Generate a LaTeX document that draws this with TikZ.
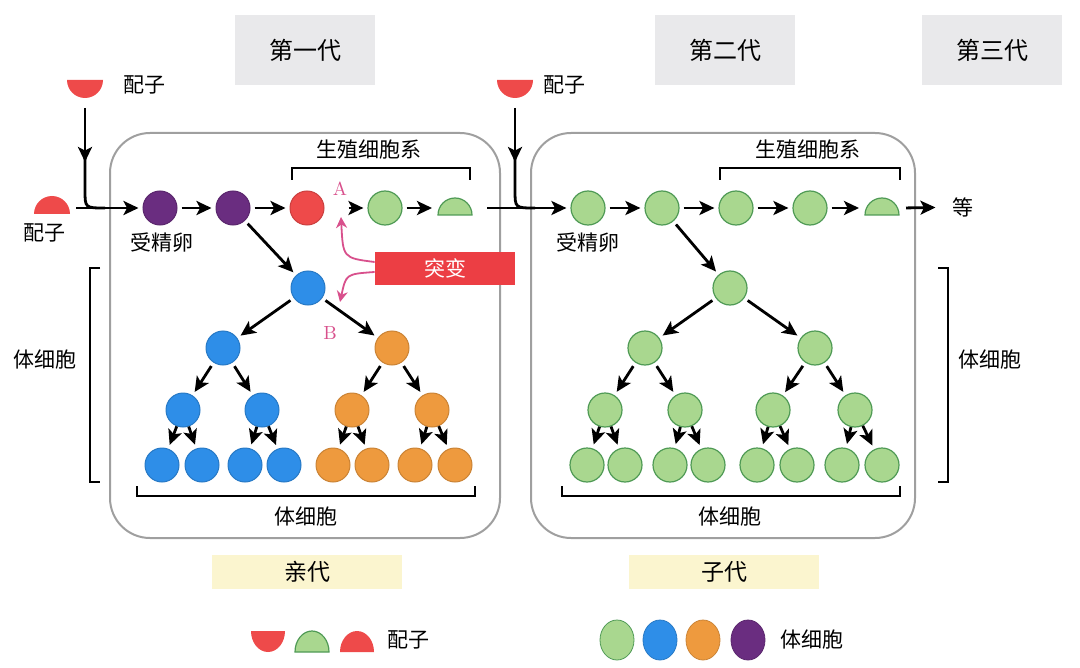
\documentclass[tikz,border=0pt]{standalone}
\usepackage{fontspec}
\newfontfamily\cjk{Noto Sans CJK SC}
\usetikzlibrary{arrows.meta,shapes.geometric}

\definecolor{cellpurple}{HTML}{6A2D80}
\definecolor{cellred}{HTML}{EE4A4A}
\definecolor{cellgreen}{HTML}{A9D78F}
\definecolor{greenline}{HTML}{4F9A55}
\definecolor{cellblue}{HTML}{2E8EE8}
\definecolor{cellorange}{HTML}{EE9A3E}
\definecolor{mutpink}{HTML}{D8508C}
\definecolor{mutred}{HTML}{EC3E44}
\definecolor{headgray}{HTML}{E9E9EB}
\definecolor{footyellow}{HTML}{FBF5CF}

\begin{document}
\begin{tikzpicture}[x=0.5pt,y=-0.5pt,>={Stealth[length=7.5pt,width=7pt,inset=1.8pt]},
    cell/.style={circle,minimum size=17pt,inner sep=0pt,fill=cell#1,draw=cell#1!85!black,line width=0.5pt},
    gcell/.style={circle,minimum size=17pt,inner sep=0pt,fill=cellgreen,draw=greenline,line width=0.6pt},
    lbl/.style={font=\cjk\fontsize{10.5}{12}\selectfont},
    flow/.style={->,line width=1.4pt,shorten <=2pt,shorten >=2pt},
    mutarrow/.style={->,mutpink,line width=0.9pt,>={Stealth[length=5.5pt,width=5.5pt]}},
    gen/.style={fill=headgray,minimum width=70pt,minimum height=35pt,font=\cjk\fontsize{12}{14}\selectfont},
    phase/.style={fill=footyellow,minimum width=95pt,minimum height=17pt,font=\cjk\fontsize{11.5}{13}\selectfont},
    frame/.style={draw=gray!75,line width=1pt,rounded corners=20pt}]
    \useasboundingbox (0,0) rectangle (1080,668);

    % Generation headers
    \node[gen] (gen1) at (305,50) {第一代};
    \node[gen] (gen2) at (725,50) {第二代};
    \node[gen] (gen3) at (992,50) {第三代};

    % Parent and offspring frames
    \draw[frame] (110,133) rectangle (500,538);
    \draw[frame] (531,133) rectangle (915,538);
    \node[phase] (par) at (307,572) {亲代};
    \node[phase] (off) at (724,572) {子代};

    % Gametes entering the first generation
    \fill[cellred] (67,80) arc[start angle=180,end angle=0,radius=18] -- cycle;
    \node[lbl,right] (gamlbl1) at (116,85) {配子};
    \fill[cellred] (34,214) arc[start angle=180,end angle=360,radius=18] -- cycle;
    \node[lbl] (gamlbl2) at (45,233) {配子};
    \coordinate (in1) at (72,208);
    \draw[flow] (85,104) -- (85,166);
    \draw[line width=1.4pt] (85,150) -- (85,190) .. controls (85,208) .. (105,208);

    % Germ line, first generation
    \node[cell=purple] (zyg1) at (160,208) {};
    \node[cell=purple] (pur2) at (233,208) {};
    \node[cell=red] (red3) at (307,208) {};
    \node[gcell] (grn4) at (385,208) {};
    \fill[cellgreen,draw=greenline,line width=0.6pt] (438,215) arc[start angle=180,end angle=360,radius=17] -- cycle;
    \coordinate (half1in) at (436,208);
    \coordinate (half1out) at (483,208);
    \draw[flow] (in1) -- (zyg1);
    \draw[flow] (zyg1) -- (pur2);
    \draw[flow] (pur2) -- (red3);
    \draw[flow,shorten <=12pt] (red3) -- (grn4);
    \draw[flow] (grn4) -- (half1in);
    \node[lbl] (zyglbl1) at (162,243) {受精卵};
    \draw[line width=0.6pt] (292,180) -- (292,168) -- (470,168) -- (470,180);
    \node[lbl] (germlbl1) at (369,150) {生殖细胞系};

    % Mutation
    \node[fill=mutred,minimum width=70pt,minimum height=16.5pt,text=white,lbl] (mut) at (445,268) {突变};
    \node[text=mutpink,font=\fontsize{9.5}{11}\selectfont] (labA) at (340,189) {A};
    \node[text=mutpink,font=\fontsize{9.5}{11}\selectfont] (labB) at (330,333) {B};
    \draw[mutarrow] ([yshift=3pt]mut.west) .. controls (343,258) .. (341,217);
    \draw[mutarrow] ([yshift=-2pt]mut.west) .. controls (346,274) .. (340,302);

    % Somatic tree, first generation
    \node[cell=blue] (blu0) at (308,288) {};
    \node[cell=blue] (blu1) at (223,348) {};
    \node[cell=orange] (org1) at (392,348) {};
    \node[cell=blue] (blu11) at (183,410) {};
    \node[cell=blue] (blu12) at (262,410) {};
    \node[cell=orange] (org11) at (352,410) {};
    \node[cell=orange] (org12) at (432,410) {};
    \node[cell=blue] (blu111) at (162,465) {};
    \node[cell=blue] (blu112) at (202,465) {};
    \node[cell=blue] (blu121) at (245,465) {};
    \node[cell=blue] (blu122) at (284,465) {};
    \node[cell=orange] (org111) at (333,465) {};
    \node[cell=orange] (org112) at (372,465) {};
    \node[cell=orange] (org121) at (415,465) {};
    \node[cell=orange] (org122) at (455,465) {};
    \draw[flow] (pur2) -- (blu0);
    \draw[flow] (blu0) -- (blu1);
    \draw[flow] (blu0) -- (org1);
    \draw[flow] (blu1) -- (blu11);
    \draw[flow] (blu1) -- (blu12);
    \draw[flow] (org1) -- (org11);
    \draw[flow] (org1) -- (org12);
    \draw[flow,shorten <=0pt] (blu11) -- (blu111);
    \draw[flow,shorten <=0pt] (blu11) -- (blu112);
    \draw[flow,shorten <=0pt] (blu12) -- (blu121);
    \draw[flow,shorten <=0pt] (blu12) -- (blu122);
    \draw[flow,shorten <=0pt] (org11) -- (org111);
    \draw[flow,shorten <=0pt] (org11) -- (org112);
    \draw[flow,shorten <=0pt] (org12) -- (org121);
    \draw[flow,shorten <=0pt] (org12) -- (org122);
    \draw[line width=0.6pt] (137,486) -- (137,496) -- (475,496) -- (475,486);
    \node[lbl] (somlbl1) at (306,517) {体细胞};
    \draw[line width=0.6pt] (100,268) -- (90,268) -- (90,482) -- (100,482);
    \node[lbl] (somlbl2) at (45,360) {体细胞};

    % Gamete entering the second generation
    \fill[cellred] (497,80) arc[start angle=180,end angle=0,radius=18] -- cycle;
    \node[lbl,right] (gamlbl3) at (536,85) {配子};
    \draw[flow] (515,104) -- (515,166);
    \draw[line width=1.4pt] (515,150) -- (515,190) .. controls (515,208) .. (535,208);

    % Germ line, second generation
    \node[gcell] (zyg2) at (588,208) {};
    \node[gcell] (grn6) at (662,208) {};
    \node[gcell] (grn7) at (736,208) {};
    \node[gcell] (grn8) at (810,208) {};
    \fill[cellgreen,draw=greenline,line width=0.6pt] (865,215) arc[start angle=180,end angle=360,radius=17] -- cycle;
    \coordinate (half2in) at (863,208);
    \coordinate (half2out) at (902,208);
    \draw[flow] (half1out) -- (zyg2);
    \draw[flow] (zyg2) -- (grn6);
    \draw[flow] (grn6) -- (grn7);
    \draw[flow] (grn7) -- (grn8);
    \draw[flow] (grn8) -- (half2in);
    \node[lbl] (etc) at (963,207) {等};
    \draw[flow,shorten >=5pt] (half2out) -- (etc);
    \node[lbl] (zyglbl2) at (588,243) {受精卵};
    \draw[line width=0.6pt] (720,180) -- (720,168) -- (900,168) -- (900,180);
    \node[lbl] (germlbl2) at (808,150) {生殖细胞系};

    % Somatic tree, second generation
    \node[gcell] (grn0) at (730,288) {};
    \node[gcell] (grn1) at (645,348) {};
    \node[gcell] (grn2) at (815,348) {};
    \node[gcell] (grn11) at (605,410) {};
    \node[gcell] (grn12) at (685,410) {};
    \node[gcell] (grn21) at (773,410) {};
    \node[gcell] (grn22) at (855,410) {};
    \node[gcell] (grn111) at (587,465) {};
    \node[gcell] (grn112) at (625,465) {};
    \node[gcell] (grn121) at (670,465) {};
    \node[gcell] (grn122) at (708,465) {};
    \node[gcell] (grn211) at (757,465) {};
    \node[gcell] (grn212) at (797,465) {};
    \node[gcell] (grn221) at (842,465) {};
    \node[gcell] (grn222) at (882,465) {};
    \draw[flow] (grn6) -- (grn0);
    \draw[flow] (grn0) -- (grn1);
    \draw[flow] (grn0) -- (grn2);
    \draw[flow] (grn1) -- (grn11);
    \draw[flow] (grn1) -- (grn12);
    \draw[flow] (grn2) -- (grn21);
    \draw[flow] (grn2) -- (grn22);
    \draw[flow,shorten <=0pt] (grn11) -- (grn111);
    \draw[flow,shorten <=0pt] (grn11) -- (grn112);
    \draw[flow,shorten <=0pt] (grn12) -- (grn121);
    \draw[flow,shorten <=0pt] (grn12) -- (grn122);
    \draw[flow,shorten <=0pt] (grn21) -- (grn211);
    \draw[flow,shorten <=0pt] (grn21) -- (grn212);
    \draw[flow,shorten <=0pt] (grn22) -- (grn221);
    \draw[flow,shorten <=0pt] (grn22) -- (grn222);
    \draw[line width=0.6pt] (562,486) -- (562,496) -- (900,496) -- (900,486);
    \node[lbl] (somlbl3) at (730,517) {体细胞};
    \draw[line width=0.6pt] (938,268) -- (948,268) -- (948,482) -- (938,482);
    \node[lbl] (somlbl4) at (990,360) {体细胞};

    % Legend
    \fill[cellred] (251,631) arc[start angle=180,end angle=0,x radius=17,y radius=21] -- cycle;
    \fill[cellgreen,draw=greenline,line width=0.6pt] (295,652) arc[start angle=180,end angle=360,x radius=17,y radius=21] -- cycle;
    \fill[cellred] (340,652) arc[start angle=180,end angle=360,x radius=17,y radius=21] -- cycle;
    \node[lbl] (keygam) at (408,640) {配子};
    \node[ellipse,minimum width=17pt,minimum height=20pt,inner sep=0pt,fill=cellgreen,draw=greenline] (keygrn) at (617,640) {};
    \node[ellipse,minimum width=17pt,minimum height=20pt,inner sep=0pt,fill=cellblue,draw=cellblue!85!black] (keyblu) at (660,640) {};
    \node[ellipse,minimum width=17pt,minimum height=20pt,inner sep=0pt,fill=cellorange,draw=cellorange!85!black] (keyorg) at (703,640) {};
    \node[ellipse,minimum width=17pt,minimum height=20pt,inner sep=0pt,fill=cellpurple,draw=cellpurple!85!black] (keypur) at (748,640) {};
    \node[lbl] (keysom) at (812,640) {体细胞};
\end{tikzpicture}
\end{document}
